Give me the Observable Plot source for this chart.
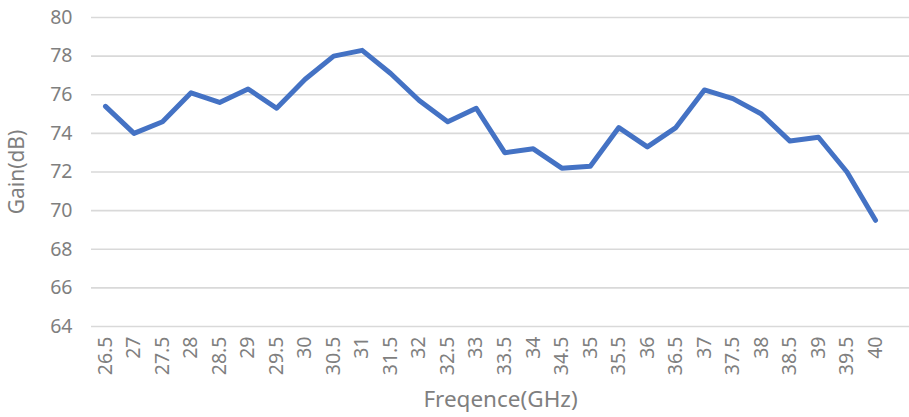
<!DOCTYPE html>
<html>
<head>
<meta charset="utf-8">
<script src="https://cdn.jsdelivr.net/npm/d3@7"></script>
<script src="https://cdn.jsdelivr.net/npm/@observablehq/plot@0.6"></script>
<style>
  html, body { margin: 0; padding: 0; background: #fff; }
  #chart svg { font-family: "Noto Sans", sans-serif; }
  #chart [aria-label="x-axis label"] text { font-size: 22.5px; }
  #chart [aria-label="y-axis label"] text { font-size: 21px; }
</style>
</head>
<body>
<div id="chart"></div>
<script>
const freqs = [26.5,27,27.5,28,28.5,29,29.5,30,30.5,31,31.5,32,32.5,33,33.5,34,34.5,35,35.5,36,36.5,37,37.5,38,38.5,39,39.5,40];
const gains = [75.4,74.0,74.6,76.1,75.6,76.3,75.3,76.8,78.0,78.3,77.1,75.7,74.6,75.3,73.0,73.2,72.2,72.3,74.3,73.3,74.3,76.25,75.8,75.0,73.6,73.8,72.0,69.5];
const yTicks = [64,66,68,70,72,74,76,78,80];

const data = freqs.map((f, i) => ({ f, g: gains[i] }));

const chart = Plot.plot({
  width: 909,
  height: 417,
  marginTop: 17,
  marginBottom: 91,
  marginLeft: 91,
  marginRight: 0,
  x: { type: "linear", domain: [26.5, 40], range: [105, 875] },
  y: { domain: [64, 80] },
  marks: [
    Plot.gridY(yTicks, { stroke: "#d9d9d9", strokeOpacity: 1, strokeWidth: 1.6 }),
    Plot.axisY(yTicks, {
      tickSize: 0, tickPadding: 19, fontSize: 19.5, color: "#7f7f7f",
      label: "Gain(dB)", labelArrow: "none", labelAnchor: "center", labelOffset: 82
    }),
    Plot.axisX(freqs, {
      tickSize: 0, tickPadding: 10, tickRotate: -90, fontSize: 19.5, color: "#7f7f7f",
      tickFormat: d => String(d),
      label: "Freqence(GHz)", labelArrow: "none", labelAnchor: "center", labelOffset: 80
    }),
    Plot.line(data, { x: "f", y: "g", stroke: "#4472C4", strokeWidth: 5, strokeLinejoin: "round", strokeLinecap: "round" })
  ]
});
document.getElementById("chart").appendChild(chart);
</script>
</body>
</html>
